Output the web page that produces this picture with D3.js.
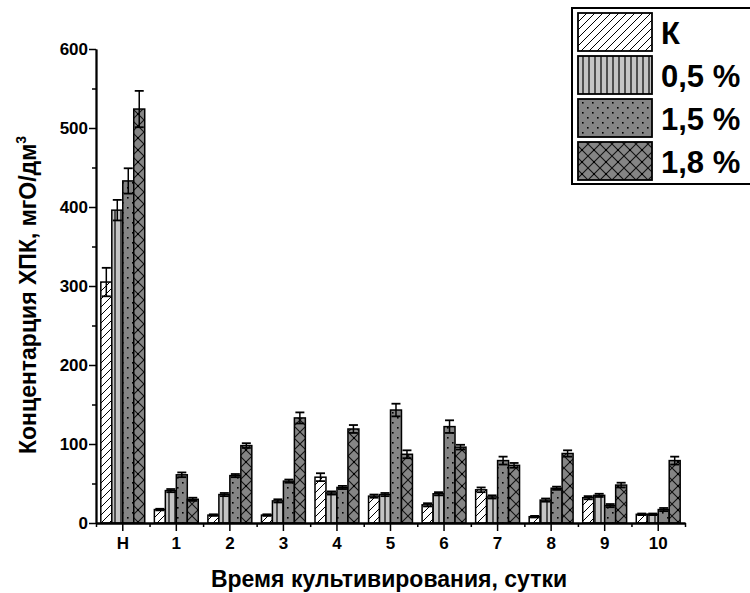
<!DOCTYPE html>
<html>
<head>
<meta charset="utf-8">
<script src="https://cdn.jsdelivr.net/npm/d3@7"></script>
<style>
  html, body { margin: 0; padding: 0; background: #fff; }
  svg { display: block; font-family: "Liberation Sans", Arial, sans-serif; font-weight: bold; }
</style>
</head>
<body>
<svg id="chart" width="750" height="593"></svg>
<script>
// Days of cultivation (Н = initial)
const categories = ["Н", "1", "2", "3", "4", "5", "6", "7", "8", "9", "10"];
const seriesNames = ["К", "0,5 %", "1,5 %", "1,8 %"];

// COD concentration, mgO/dm3
const valuesK   = [305, 17, 10, 10, 58, 34, 23, 42,  8, 32, 11];
const values05  = [396, 41, 36, 28, 38, 36, 37, 33, 29, 35, 11];
const values15  = [433, 61, 60, 53, 45, 143, 122, 79, 44, 22, 17];
const values18  = [524, 30, 98, 133, 119, 87, 96, 73, 88, 48, 79];

// Error bar half-widths
const errK   = [18, 1, 1, 1, 5, 2, 2, 3, 1, 2, 1];
const err05  = [13, 2, 2, 2, 2, 2, 2, 2, 2, 2, 1];
const err15  = [16, 3, 2, 2, 2, 8, 8, 5, 2, 2, 2];
const err18  = [23, 2, 3, 7, 5, 5, 3, 3, 4, 3, 5];

const yTicks = [0, 100, 200, 300, 400, 500, 600];
const yMinorTicks = [50, 150, 250, 350, 450, 550];

const seriesValues = [valuesK, values05, values15, values18];
const seriesErrors = [errK, err05, err15, err18];

const svg = d3.select("#chart");
const defs = svg.append("defs");

// Fill patterns
function pat(id, w, h, bg) {
  const p = defs.append("pattern").attr("id", id)
    .attr("patternUnits", "userSpaceOnUse").attr("width", w).attr("height", h);
  p.append("rect").attr("width", w).attr("height", h).attr("fill", bg);
  return p;
}
// К: diagonal hatch on white
const pK = pat("pK", 8, 8, "#ffffff");
pK.append("path").attr("d", "M-2,2 L2,-2 M0,8 L8,0 M6,10 L10,6").attr("stroke", "#000").attr("stroke-width", 1);
// 0,5 %: vertical lines on light grey
const p05 = pat("p05", 6, 6, "#c4c4c4");
p05.append("path").attr("d", "M1,0 L1,6").attr("stroke", "#000").attr("stroke-width", 1.2);
// 1,5 %: dots on grey
const p15 = pat("p15", 10, 10, "#858585");
p15.append("rect").attr("x", 2).attr("y", 2).attr("width", 1.6).attr("height", 1.6).attr("fill", "#000");
p15.append("rect").attr("x", 7).attr("y", 7).attr("width", 1.6).attr("height", 1.6).attr("fill", "#000");
// 1,8 %: diamond lattice on grey
const p18 = pat("p18", 12, 12, "#858585");
p18.append("path").attr("d", "M0,0 L12,12 M12,0 L0,12").attr("stroke", "#111").attr("stroke-width", 1.1);
p18.append("rect").attr("x", 5).attr("y", 5).attr("width", 2).attr("height", 2).attr("fill", "#000");

const fills = ["url(#pK)", "url(#p05)", "url(#p15)", "url(#p18)"];

// Plot geometry
const x0 = 96, x1 = 685, yTop = 49, yBase = 523;

const x = d3.scaleBand().domain(categories).range([x0, x1]).padding(0);
const xInner = d3.scaleBand().domain(d3.range(4))
  .range([x.bandwidth() * 0.09, x.bandwidth() * 0.91]).padding(0);
const y = d3.scaleLinear().domain([0, 600]).range([yBase, yTop]);

// Bars
const rows = [];
categories.forEach((c, i) => {
  seriesValues.forEach((vals, s) => {
    rows.push({ cat: c, s, v: vals[i], e: seriesErrors[s][i] });
  });
});

const g = svg.append("g");
g.selectAll("rect.bar").data(rows).join("rect").attr("class", "bar")
  .attr("x", d => x(d.cat) + xInner(d.s))
  .attr("y", d => y(d.v))
  .attr("width", xInner.bandwidth())
  .attr("height", d => y(0) - y(d.v))
  .attr("fill", d => fills[d.s])
  .attr("stroke", "#000").attr("stroke-width", 1.5);

// Error bars
const capHalf = 4.5;
const eg = g.selectAll("g.err").data(rows).join("g").attr("class", "err")
  .attr("transform", d => `translate(${x(d.cat) + xInner(d.s) + xInner.bandwidth() / 2},0)`);
eg.append("line").attr("x1", 0).attr("x2", 0)
  .attr("y1", d => y(d.v - d.e)).attr("y2", d => y(d.v + d.e))
  .attr("stroke", "#000").attr("stroke-width", 1.5);
eg.append("line").attr("x1", -capHalf).attr("x2", capHalf)
  .attr("y1", d => y(d.v + d.e)).attr("y2", d => y(d.v + d.e))
  .attr("stroke", "#000").attr("stroke-width", 1.8);
eg.append("line").attr("x1", -capHalf).attr("x2", capHalf)
  .attr("y1", d => y(d.v - d.e)).attr("y2", d => y(d.v - d.e))
  .attr("stroke", "#000").attr("stroke-width", 1.8);

// Y axis
const yAxis = svg.append("g").attr("transform", `translate(${x0},0)`)
  .call(d3.axisLeft(y).tickValues(yTicks).tickSize(7).tickPadding(1).tickSizeOuter(0));
svg.append("g").attr("transform", `translate(${x0},0)`)
  .call(d3.axisLeft(y).tickValues(yMinorTicks).tickSize(4).tickFormat("").tickSizeOuter(0));

// X axis: major ticks at categories, minor ticks at boundaries
const xAxis = svg.append("g").attr("transform", `translate(0,${yBase})`)
  .call(d3.axisBottom(x).tickSize(8).tickPadding(6).tickSizeOuter(0));
const xEdge = d3.scaleLinear().domain([0, categories.length]).range([x0, x1]);
svg.append("g").attr("transform", `translate(0,${yBase})`)
  .call(d3.axisBottom(xEdge).tickValues(d3.range(categories.length + 1)).tickSize(4).tickFormat("").tickSizeOuter(0));

svg.selectAll(".domain").attr("stroke", "#000").attr("stroke-width", 1.8);
svg.selectAll(".tick line").attr("stroke", "#000").attr("stroke-width", 1.5);
yAxis.selectAll("text").attr("font-size", 17).attr("font-weight", "bold").attr("fill", "#000")
  .attr("font-family", "Liberation Sans, Arial, sans-serif");
xAxis.selectAll("text").attr("font-size", 17).attr("font-weight", "bold").attr("fill", "#000")
  .attr("font-family", "Liberation Sans, Arial, sans-serif");

// Axis titles
const yTitle = svg.append("text")
  .attr("transform", `translate(36,295) rotate(-90)`)
  .attr("text-anchor", "middle").attr("font-size", 23).attr("fill", "#000");
yTitle.append("tspan").text("Концентарция ХПК, мгО/дм");
yTitle.append("tspan").attr("font-size", 14).attr("dy", -10).text("3");

svg.append("text").attr("x", 389).attr("y", 587)
  .attr("text-anchor", "middle").attr("font-size", 23).attr("fill", "#000")
  .text("Время культивирования, сутки");

// Legend
const lg = svg.append("g");
lg.append("rect").attr("x", 572).attr("y", 8).attr("width", 190).attr("height", 176)
  .attr("fill", "#fff").attr("stroke", "#000").attr("stroke-width", 2);
seriesNames.forEach((name, s) => {
  const yy = 13 + s * 43;
  lg.append("rect").attr("x", 578).attr("y", yy).attr("width", 74).attr("height", 38)
    .attr("fill", fills[s]).attr("stroke", "#000").attr("stroke-width", 1.8);
  lg.append("text").attr("x", 661).attr("y", yy + 31).attr("font-size", 31).attr("fill", "#000").text(name);
});
</script>
</body>
</html>
